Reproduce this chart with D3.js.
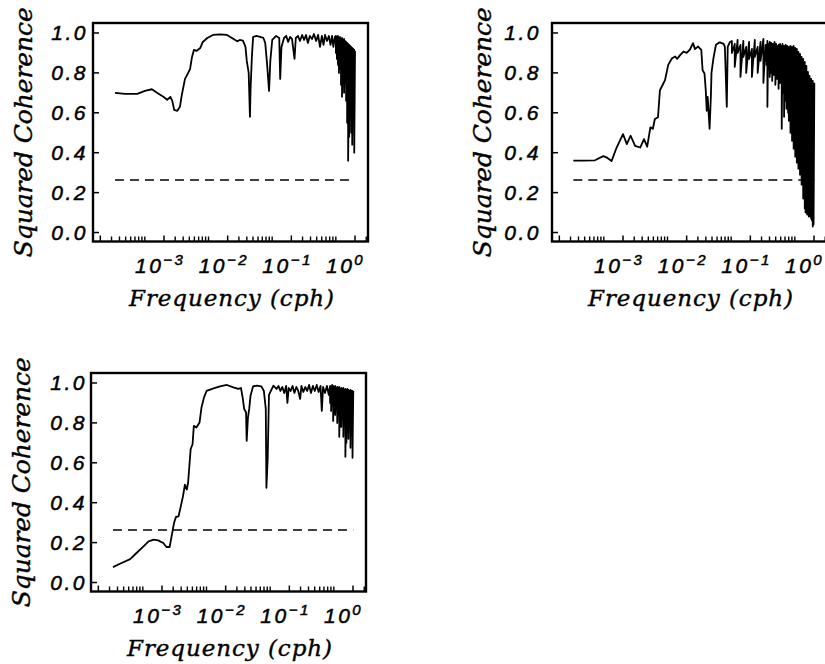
<!DOCTYPE html>
<html>
<head>
<meta charset="utf-8">
<script src="https://cdn.jsdelivr.net/npm/d3@7"></script>
<style>
  body { margin: 0; background: #fff; }
  svg { display: block; }
</style>
</head>
<body>
<svg id="fig" width="825" height="664"></svg>
<script>
// axis content
const xDecades = [-3, -2, -1, 0];
const minorSteps = [1.5, 2, 2.5, 3, 3.5, 4, 4.5, 5];
const yTicks = [0, 0.2, 0.4, 0.6, 0.8, 1.0];
const xTitle = "Frequency (cph)";
const yTitle = "Squared Coherence";
const significance = 0.263;

// [log10 frequency (cph), squared coherence]
const cohA = [[-3.77,0.70],[-3.61,0.695],[-3.42,0.695],[-3.30,0.71],[-3.19,0.718],[-3.11,0.70],[-3.01,0.68],[-2.95,0.665],
  [-2.90,0.68],[-2.87,0.66],[-2.84,0.615],[-2.79,0.61],[-2.75,0.63],[-2.72,0.69],[-2.67,0.77],[-2.62,0.80],[-2.59,0.82],
  [-2.56,0.88],[-2.53,0.915],[-2.49,0.91],[-2.43,0.925],[-2.39,0.955],[-2.32,0.975],[-2.23,0.99],[-2.12,0.993],[-2.01,0.99],
  [-1.92,0.972],[-1.85,0.958],[-1.81,0.965],[-1.76,0.962],[-1.72,0.93],[-1.70,0.86],[-1.67,0.80],[-1.65,0.58],[-1.64,0.72],
  [-1.62,0.88],[-1.60,0.98],[-1.55,0.985],[-1.49,0.98],[-1.44,0.976],[-1.41,0.95],[-1.38,0.84],[-1.35,0.71],[-1.33,0.86],
  [-1.30,0.965],[-1.24,0.985],[-1.19,0.975],[-1.175,0.77],[-1.155,0.93],[-1.115,0.975],[-1.08,0.985],[-1.05,0.955],
  [-1.02,0.98],[-0.99,0.97],[-0.95,0.87],[-0.93,0.975],[-0.895,0.985],[-0.865,0.96],[-0.83,0.99],[-0.80,0.965],[-0.77,0.99],
  [-0.74,0.95],[-0.71,0.985],[-0.675,0.97],[-0.645,0.995],[-0.61,0.96],[-0.58,0.99],[-0.55,0.93],[-0.52,0.985],[-0.495,0.94],
  [-0.47,0.99],[-0.44,0.96],[-0.41,0.985],[-0.385,0.94],[-0.36,0.985],[-0.34,0.93],[-0.315,0.98]];
// [log10 frequency, max, min] where the spectrum is too dense to separate
const bandA = [[-0.300,0.985,0.90],[-0.284,0.98,0.87],[-0.268,0.985,0.84],[-0.252,0.975,0.80],[-0.236,0.98,0.82],
  [-0.220,0.97,0.74],[-0.204,0.975,0.68],[-0.188,0.965,0.76],[-0.172,0.97,0.70],[-0.156,0.96,0.78],[-0.140,0.955,0.66],
  [-0.124,0.95,0.55],[-0.108,0.945,0.36],[-0.092,0.94,0.48],[-0.076,0.935,0.58],[-0.060,0.93,0.50],[-0.044,0.925,0.44],
  [-0.028,0.92,0.62],[-0.012,0.915,0.40]];
const endA = [[0.0,0.91]];

const cohB = [[-3.78,0.36],[-3.62,0.36],[-3.44,0.362],[-3.31,0.383],[-3.25,0.375],[-3.18,0.358],[-3.10,0.426],[-3.00,0.493],
  [-2.94,0.443],[-2.88,0.485],[-2.81,0.434],[-2.73,0.426],[-2.67,0.468],[-2.62,0.43],[-2.57,0.527],[-2.53,0.52],[-2.50,0.569],
  [-2.45,0.578],[-2.42,0.713],[-2.38,0.738],[-2.34,0.764],[-2.29,0.84],[-2.23,0.873],[-2.18,0.882],[-2.15,0.87],[-2.10,0.89],
  [-2.05,0.907],[-2.00,0.90],[-1.95,0.916],[-1.90,0.949],[-1.87,0.919],[-1.82,0.932],[-1.77,0.915],[-1.75,0.814],[-1.72,0.797],
  [-1.70,0.713],[-1.685,0.61],[-1.67,0.68],[-1.64,0.52],[-1.62,0.68],[-1.61,0.80],[-1.58,0.873],[-1.54,0.941],[-1.48,0.953],
  [-1.42,0.945],[-1.40,0.93],[-1.37,0.63],[-1.355,0.93],[-1.32,0.955]];
const bandB = [[-1.29,0.96,0.90],[-1.245,0.945,0.83],[-1.20,0.965,0.90],[-1.155,0.94,0.78],[-1.11,0.96,0.88],
  [-1.065,0.93,0.80],[-1.02,0.955,0.87],[-0.975,0.92,0.78],[-0.93,0.965,0.88],[-0.885,0.93,0.80],[-0.84,0.955,0.86],
  [-0.795,0.97,0.75],[-0.76,0.94,0.86],[-0.745,0.93,0.84],[-0.732,0.96,0.63],[-0.720,0.945,0.82],[-0.707,0.92,0.86],[-0.695,0.955,0.78],
  [-0.682,0.935,0.84],[-0.670,0.95,0.80],[-0.657,0.92,0.76],[-0.645,0.945,0.85],[-0.632,0.93,0.79],[-0.620,0.955,0.82],
  [-0.607,0.925,0.74],[-0.595,0.945,0.80],[-0.582,0.935,0.77],[-0.570,0.915,0.83],[-0.557,0.94,0.72],[-0.545,0.93,0.78],
  [-0.532,0.945,0.75],[-0.520,0.92,0.80],[-0.507,0.935,0.52],[-0.495,0.945,0.74],[-0.482,0.92,0.70],[-0.470,0.935,0.58],
  [-0.457,0.91,0.72],[-0.445,0.94,0.66],[-0.432,0.925,0.62],[-0.420,0.935,0.68],[-0.407,0.91,0.60],[-0.395,0.93,0.56],
  [-0.382,0.92,0.62],[-0.370,0.935,0.50],[-0.357,0.915,0.54],[-0.345,0.93,0.46],[-0.332,0.92,0.50],[-0.320,0.935,0.42],
  [-0.307,0.91,0.45],[-0.295,0.925,0.38],[-0.282,0.915,0.40],[-0.270,0.92,0.35],[-0.257,0.90,0.37],[-0.245,0.905,0.32],
  [-0.232,0.885,0.34],[-0.220,0.895,0.29],[-0.207,0.875,0.31],[-0.195,0.88,0.24],[-0.182,0.86,0.26],[-0.170,0.87,0.17],
  [-0.157,0.85,0.20],[-0.145,0.855,0.12],[-0.132,0.83,0.10],[-0.120,0.835,0.14],[-0.107,0.80,0.09],[-0.095,0.805,0.10],
  [-0.082,0.78,0.08],[-0.070,0.785,0.09],[-0.057,0.76,0.08],[-0.045,0.77,0.07],[-0.032,0.75,0.06],[-0.020,0.76,0.03],
  [-0.007,0.745,0.04]];
const endB = [[0.005,0.75]];

const cohC = [[-3.77,0.077],[-3.66,0.094],[-3.50,0.117],[-3.40,0.148],[-3.29,0.181],[-3.21,0.206],[-3.13,0.215],[-3.06,0.211],
  [-2.98,0.198],[-2.93,0.178],[-2.88,0.178],[-2.85,0.23],[-2.81,0.30],[-2.78,0.329],[-2.74,0.332],[-2.71,0.374],[-2.67,0.433],
  [-2.64,0.49],[-2.61,0.466],[-2.59,0.50],[-2.57,0.584],[-2.55,0.668],[-2.52,0.693],[-2.50,0.785],[-2.46,0.777],[-2.41,0.802],
  [-2.38,0.877],[-2.34,0.928],[-2.30,0.96],[-2.19,0.973],[-2.09,0.983],[-1.98,0.99],[-1.88,0.978],[-1.80,0.97],[-1.76,0.975],
  [-1.73,0.92],[-1.71,0.87],[-1.68,0.852],[-1.67,0.71],[-1.65,0.827],[-1.63,0.87],[-1.61,0.936],[-1.57,0.983],[-1.51,0.987],
  [-1.44,0.983],[-1.40,0.96],[-1.37,0.87],[-1.36,0.475],[-1.34,0.62],[-1.32,0.94],[-1.29,0.96],[-1.25,0.987],[-1.20,0.97],
  [-1.17,0.985],[-1.14,0.96],[-1.11,0.98],[-1.08,0.95],[-1.05,0.985],[-1.03,0.90],[-1.01,0.975],[-0.98,0.96],[-0.95,0.985],
  [-0.92,0.95],[-0.89,0.98],[-0.86,0.96],[-0.83,0.92],[-0.81,0.985],[-0.78,0.955],[-0.75,0.98],[-0.72,0.96],[-0.69,0.99],
  [-0.66,0.95],[-0.63,0.985],[-0.60,0.96],[-0.57,0.99],[-0.54,0.955],[-0.51,0.985],[-0.49,0.86],[-0.47,0.98],[-0.44,0.95],
  [-0.41,0.985],[-0.38,0.94]];
const bandC = [[-0.360,0.985,0.90],[-0.344,0.98,0.86],[-0.328,0.99,0.92],[-0.312,0.985,0.81],[-0.296,0.98,0.88],
  [-0.280,0.985,0.84],[-0.264,0.975,0.90],[-0.248,0.98,0.80],[-0.232,0.975,0.86],[-0.216,0.98,0.73],[-0.200,0.97,0.82],
  [-0.184,0.975,0.78],[-0.168,0.97,0.86],[-0.152,0.975,0.73],[-0.136,0.965,0.80],[-0.120,0.97,0.63],[-0.104,0.965,0.70],
  [-0.088,0.97,0.76],[-0.072,0.965,0.72],[-0.056,0.96,0.80],[-0.040,0.965,0.675],[-0.024,0.96,0.74],[-0.008,0.96,0.625]];
const endC = [[0.004,0.96]];

// layout
const W = 275, H = 218.5;
const panels = [
  { x: 93,  y: 23,  gap: 5,  pts: cohA, band: bandA, tail: endA },
  { x: 552, y: 23,  gap: 11, pts: cohB, band: bandB, tail: endB },
  { x: 91,  y: 373, gap: 4,  pts: cohC, band: bandC, tail: endC }
];

const svg = d3.select("#fig");
const xScale = d3.scaleLog().domain([Math.pow(10, -4.115), Math.pow(10, 0.204)]).range([0, W]);
const yScale = d3.scaleLinear().domain([-0.045, 1.05]).range([H, 0]);

const minorTicks = [];
[-4, -3, -2, -1, 0].forEach(k => minorSteps.forEach(m => {
  const v = m * Math.pow(10, k);
  if (v > xScale.domain()[0] && v < xScale.domain()[1]) minorTicks.push(v);
}));
const majorTicks = [-4].concat(xDecades).map(k => Math.pow(10, k));

const line = d3.line()
  .x(d => xScale(Math.pow(10, d[0])))
  .y(d => yScale(d[1]));

panels.forEach(p => {
  const g = svg.append("g").attr("transform", `translate(${p.x},${p.y})`);

  // series: single points, then the max/min band, then the last point
  const series = p.pts.concat(
    p.band.flatMap(d => [[d[0], d[1]], [d[0], d[2]]]),
    p.tail);

  // significance level
  const ext = d3.extent(series, d => d[0]);
  g.append("line")
    .attr("x1", xScale(Math.pow(10, ext[0])))
    .attr("x2", xScale(Math.pow(10, ext[1])))
    .attr("y1", yScale(significance))
    .attr("y2", yScale(significance))
    .attr("stroke", "#000")
    .attr("stroke-width", 1.5)
    .attr("stroke-dasharray", "9,6");

  g.append("path")
    .datum(series)
    .attr("d", line)
    .attr("fill", "none")
    .attr("stroke", "#000")
    .attr("stroke-width", 1.8)
    .attr("stroke-linejoin", "round");

  // y ticks inside the frame
  g.selectAll(".yt").data(yTicks).enter().append("line")
    .attr("x1", 0).attr("x2", 6)
    .attr("y1", d => yScale(d)).attr("y2", d => yScale(d))
    .attr("stroke", "#000").attr("stroke-width", 1.5);

  g.selectAll(".yl").data(yTicks).enter().append("text")
    .attr("x", -p.gap)
    .attr("y", d => yScale(d) + 7.5)
    .attr("text-anchor", "end")
    .attr("font-family", "Liberation Sans, Arial, sans-serif")
    .attr("font-style", "italic")
    .attr("font-size", 21)
    .attr("letter-spacing", 2.5)
    .attr("stroke", "#000")
    .attr("stroke-width", 0.5)
    .text(d => d.toFixed(1));

  // x ticks inside the frame
  g.selectAll(".xm").data(minorTicks).enter().append("line")
    .attr("x1", d => xScale(d)).attr("x2", d => xScale(d))
    .attr("y1", H).attr("y2", H - 5)
    .attr("stroke", "#000").attr("stroke-width", 1.4);
  g.selectAll(".xM").data(majorTicks.filter(v => xScale(v) > 2)).enter().append("line")
    .attr("x1", d => xScale(d)).attr("x2", d => xScale(d))
    .attr("y1", H).attr("y2", H - 6)
    .attr("stroke", "#000").attr("stroke-width", 1.5);

  const xl = g.selectAll(".xl").data(xDecades).enter().append("text")
    .attr("x", d => xScale(Math.pow(10, d)) - 29)
    .attr("y", H + 31)
    .attr("font-family", "Liberation Sans, Arial, sans-serif")
    .attr("font-style", "italic")
    .attr("font-size", 21)
    .attr("letter-spacing", 2.5)
    .attr("stroke", "#000")
    .attr("stroke-width", 0.5);
  xl.append("tspan").text("10");
  xl.append("tspan")
    .attr("dy", -8)
    .attr("font-size", 15)
    .text(d => d === 0 ? "0" : "\u2212" + Math.abs(d));

  // frame
  g.append("rect")
    .attr("x", 0).attr("y", 0).attr("width", W).attr("height", H)
    .attr("fill", "none").attr("stroke", "#000").attr("stroke-width", 2.4);

  // axis titles
  g.append("text")
    .attr("x", W / 2 + 1)
    .attr("y", H + 64)
    .attr("text-anchor", "middle")
    .attr("font-family", "DejaVu Serif, serif")
    .attr("font-style", "italic")
    .attr("font-size", 23)
    .attr("stroke", "#000")
    .attr("stroke-width", 0.4)
    .attr("textLength", 205)
    .attr("lengthAdjust", "spacing")
    .text(xTitle);

  g.append("text")
    .attr("transform", `translate(-61,${H / 2}) rotate(-90)`)
    .attr("text-anchor", "middle")
    .attr("font-family", "DejaVu Serif, serif")
    .attr("font-style", "italic")
    .attr("font-size", 25)
    .attr("stroke", "#000")
    .attr("stroke-width", 0.4)
    .attr("textLength", 250)
    .attr("lengthAdjust", "spacing")
    .text(yTitle);
});
</script>
</body>
</html>
